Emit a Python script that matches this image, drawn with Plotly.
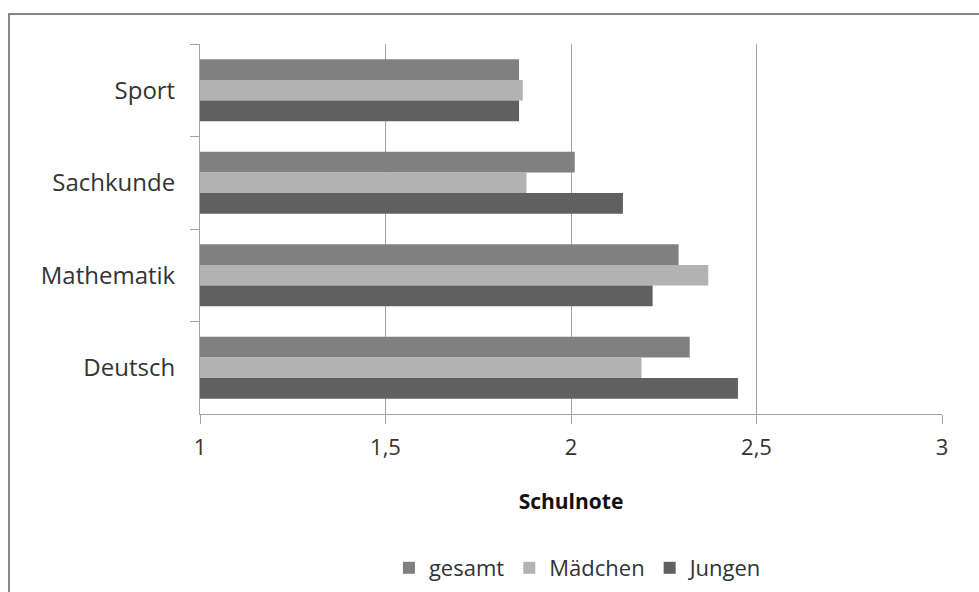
import plotly.graph_objects as go

categories = ["Sport", "Sachkunde", "Mathematik", "Deutsch"]
gesamt = [1.86, 2.01, 2.29, 2.32]
maedchen = [1.87, 1.88, 2.37, 2.19]
jungen = [1.86, 2.14, 2.22, 2.45]
tick_vals = [1, 1.5, 2, 2.5, 3]
tick_text = ["1", "1,5", "2", "2,5", "3"]

FONT = "Open Sans"
BASE = 1

fig = go.Figure()
for name, vals, color in [("gesamt", gesamt, "#808080"),
                          ("Mädchen", maedchen, "#b2b2b2"),
                          ("Jungen", jungen, "#606060")]:
    fig.add_trace(go.Bar(
        y=categories, x=[v - BASE for v in vals], name=name, orientation="h",
        base=BASE, marker=dict(color=color, line=dict(width=0)),
    ))

fig.update_layout(
    width=979, height=592,
    margin=dict(l=200, r=37, t=44, b=178, autoexpand=False),
    paper_bgcolor="white", plot_bgcolor="white",
    barmode="group", bargap=0.33, bargroupgap=0,
    font=dict(family=FONT, color="#333333", size=22),
    showlegend=True,
    legend=dict(orientation="h", x=0.51, xanchor="center",
                yref="container", y=(592 - 568) / 592, yanchor="middle",
                font=dict(size=22, family=FONT, color="#333333"), traceorder="normal",
                itemwidth=30),
    xaxis=dict(range=[1, 3], tickvals=tick_vals, ticktext=tick_text,
               showgrid=True, gridcolor="#a3a3a3", gridwidth=1,
               showline=True, linecolor="#a3a3a3", linewidth=1,
               ticks="outside", ticklen=9, tickcolor="#a3a3a3",
               tickfont=dict(size=22, family=FONT, color="#333333"),
               ticklabelstandoff=5, automargin=False,
               zeroline=False,
               title=dict(text="<b>Schulnote</b>", standoff=33,
                          font=dict(size=21, family=FONT, color="#111111"))),
    yaxis=dict(autorange="reversed", type="category",
               showline=True, linecolor="#a3a3a3", linewidth=1,
               ticks="outside", ticklen=9, tickcolor="#a3a3a3",
               tickson="boundaries", showgrid=False, automargin=False,
               tickfont=dict(size=24, family=FONT, color="#333333"),
               ticklabelstandoff=19),
)

fig.add_shape(type="rect", xref="paper", yref="paper",
              x0=(9 - 200) / 742, x1=(990 - 200) / 742,
              y0=(414 - 600) / 370, y1=(414 - 14) / 370,
              line=dict(color="#868686", width=2), fillcolor="rgba(0,0,0,0)",
              layer="below")

fig.write_html("out.html", config={"displayModeBar": False},
               post_script="document.body.style.margin='0';")
